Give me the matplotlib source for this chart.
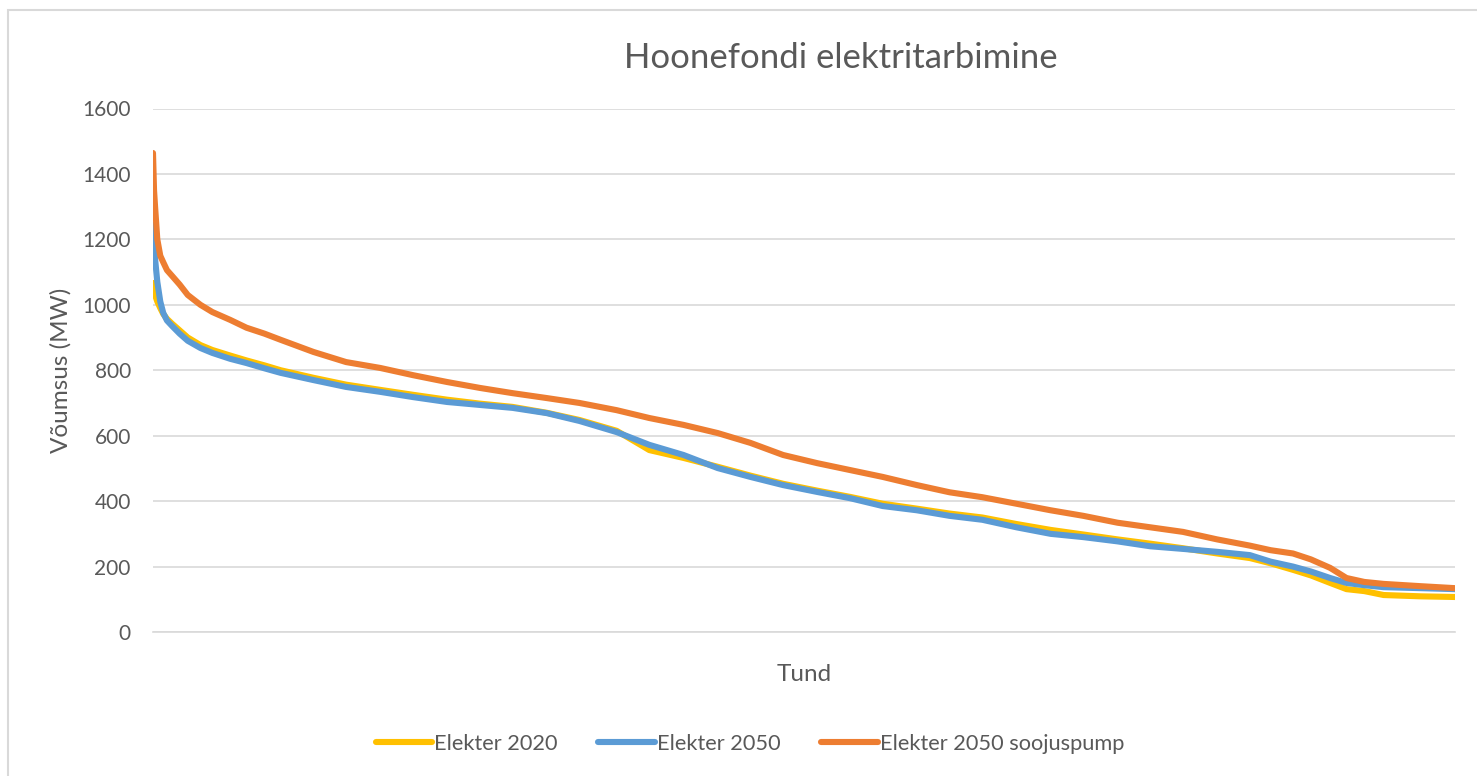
import matplotlib.pyplot as plt
from matplotlib.lines import Line2D

# Hours of the year, sorted load duration (MW)
hours = [1, 8, 15, 30, 50, 70, 95, 130, 180, 235, 320, 400, 520, 630, 750, 860,
         1080, 1300, 1530, 1750, 1980, 2200, 2420, 2650, 2870, 3120, 3340, 3570,
         3800, 4020, 4240, 4470, 4690, 4910, 5140, 5360, 5580, 5810, 6040, 6260,
         6490, 6710, 6930, 7160, 7380, 7520, 7670, 7790, 7920, 8030, 8150, 8280,
         8530, 8760]

elekter_2020 = [1067, 1045, 1030, 1010, 990, 972, 957, 942, 922, 900, 877, 862,
                845, 830, 815, 800, 777, 756, 740, 725, 710, 698, 688, 670, 648,
                615, 556, 532, 505, 478, 453, 432, 413, 392, 377, 362, 350, 330,
                312, 298, 283, 270, 256, 240, 226, 210, 190, 173, 150, 131, 125,
                113, 109, 107]

elekter_2050 = [1244, 1180, 1140, 1070, 1010, 975, 952, 935, 912, 890, 868, 853,
                835, 822, 806, 792, 770, 749, 734, 718, 703, 694, 685, 669, 645,
                611, 572, 541, 501, 474, 449, 428, 409, 385, 372, 355, 343, 320,
                300, 290, 277, 262, 254, 245, 235, 215, 200, 185, 165, 150, 143,
                137, 134, 131]

elekter_2050_sp = [1464, 1350, 1300, 1200, 1150, 1130, 1106, 1088, 1062, 1030,
                   1000, 978, 954, 930, 912, 893, 856, 825, 807, 785, 764, 746,
                   730, 715, 700, 678, 654, 633, 608, 578, 541, 516, 495, 474,
                   449, 427, 412, 392, 372, 355, 334, 320, 306, 283, 264, 250,
                   240, 222, 196, 165, 153, 147, 140, 134]

series_names = ["Elekter 2020", "Elekter 2050", "Elekter 2050 soojuspump"]
series_colors = ["#FFC000", "#5B9BD5", "#ED7D31"]
yticks = [0, 200, 400, 600, 800, 1000, 1200, 1400, 1600]

plt.rcParams["font.family"] = ["Lato", "DejaVu Sans"]
text_color = "#595959"

fig = plt.figure(figsize=(14.77, 7.76), dpi=100)
ax = fig.add_axes([153 / 1477, 1 - 632 / 776, (1455 - 153) / 1477, (632 - 108.5) / 776])

# outer chart frame
fig.add_artist(plt.Rectangle((8 / 1477, -0.01), 1.2, 1 - 10 / 776 + 0.01,
                             transform=fig.transFigure, fill=False,
                             edgecolor="#D9D9D9", linewidth=1.5))

for vals, name, col in zip([elekter_2020, elekter_2050, elekter_2050_sp],
                           series_names, series_colors):
    ax.plot(hours, vals, color=col, linewidth=4.4, solid_capstyle="round",
            solid_joinstyle="round", label=name, zorder=3)

ax.set_xlim(1, 8760)
ax.set_ylim(0, 1600)
ax.set_yticks(yticks)
ax.set_xticks([])
ax.grid(axis="y", color="#D9D9D9", linewidth=1.2)
ax.set_axisbelow(True)
for side in ["top", "right", "left"]:
    ax.spines[side].set_visible(False)
ax.spines["bottom"].set_color("#D9D9D9")
ax.spines["bottom"].set_linewidth(1.2)
ax.tick_params(axis="y", length=0, pad=16, labelsize=15, labelcolor=text_color)

fig.text(841 / 1477, 1 - 58 / 776, "Hoonefondi elektritarbimine", fontsize=25,
         color=text_color, ha="center", va="center")
ax.set_ylabel("Võumsus (MW)", fontsize=17.5, color=text_color, labelpad=8)
ax.set_xlabel("Tund", fontsize=17.5, color=text_color, labelpad=23)

handles = [Line2D([], [], color=c, linewidth=4.4, solid_capstyle="round")
           for c in series_colors]
fig.legend(handles, series_names, loc="center", bbox_to_anchor=(750 / 1477, 1 - 744 / 776),
           ncol=3, frameon=False, fontsize=15.7, labelcolor=text_color,
           handlelength=2.6, handletextpad=0.1, columnspacing=1.85)

fig.savefig("out.png", dpi=100, facecolor="white")
